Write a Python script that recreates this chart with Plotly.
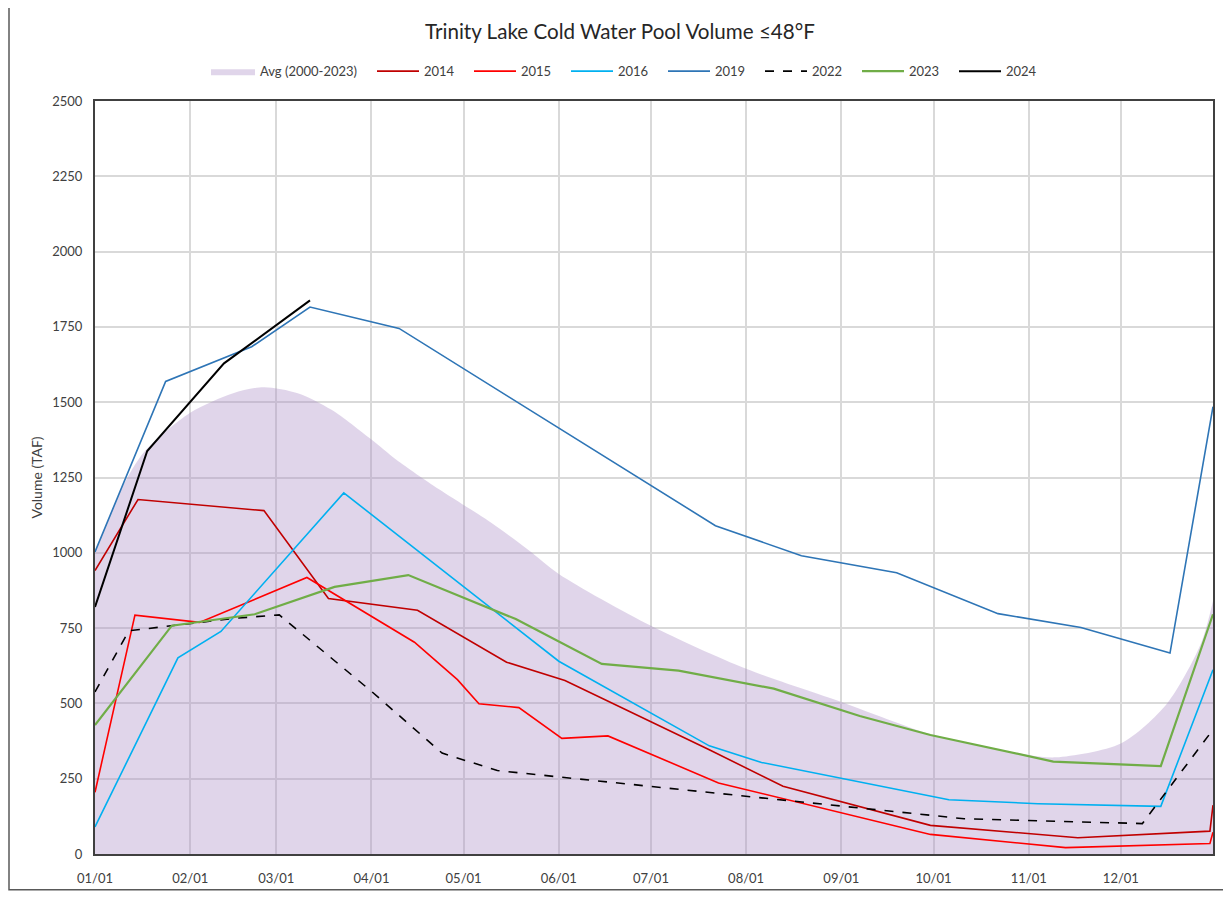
import plotly.graph_objects as go

YEAR = "2023"

# series values (MM-DD, TAF)
avg_dates = ["01-01", "01-10", "01-17", "02-01", "02-15", "02-25", "03-08", "03-19", "04-01",
             "04-09", "04-23", "05-10", "05-22", "06-01", "07-01", "08-01", "09-01", "10-01",
             "11-01", "11-10", "12-01", "12-16", "12-27", "12-31"]
avg_vals = [1000, 1220, 1335, 1465, 1530, 1550, 1530, 1475, 1376,
            1310, 1211, 1100, 1010, 930, 758, 615, 505, 395,
            329, 321, 367, 499, 697, 840]

d2014 = ["01-01", "01-15", "02-25", "03-18", "04-16", "05-15", "06-03", "07-20", "08-13",
         "09-30", "11-17", "12-30", "12-31"]
v2014 = [941, 1177, 1140, 848, 809, 637, 576, 346, 225, 95, 54, 76, 162]

d2015 = ["01-01", "01-14", "02-04", "03-11", "04-15", "04-29", "05-06", "05-19", "06-02",
         "06-17", "07-23", "09-30", "11-13", "12-30", "12-31"]
v2015 = [205, 793, 769, 918, 703, 579, 499, 486, 384, 392, 236, 65, 21, 35, 72]

d2016 = ["01-01", "01-28", "02-11", "03-23", "06-01", "07-20", "08-06", "10-06", "11-04",
         "12-14", "12-31"]
v2016 = [90, 651, 739, 1199, 640, 359, 304, 180, 167, 158, 612]

d2019 = ["01-01", "01-24", "02-21", "03-12", "04-10", "07-22", "08-19", "09-19", "10-22",
         "11-18", "12-17", "12-31"]
v2019 = [1003, 1569, 1684, 1816, 1745, 1090, 990, 934, 798, 752, 667, 1485]

d2022 = ["01-01", "01-12", "02-15", "03-02", "04-01", "04-24", "05-12", "10-11", "12-08", "12-31"]
v2022 = [538, 741, 782, 794, 540, 335, 277, 117, 101, 413]

d2023 = ["01-01", "01-26", "02-22", "03-20", "04-13", "05-18", "06-15", "07-10", "08-10",
         "09-07", "09-30", "11-09", "12-14", "12-31"]
v2023 = [428, 758, 796, 887, 926, 780, 631, 609, 549, 458, 395, 307, 292, 796]

d2024 = ["01-01", "01-18", "02-12", "02-28", "03-12"]
v2024 = [820, 1338, 1629, 1750, 1838]

month_ticks = ["01-01", "02-01", "03-01", "04-01", "05-01", "06-01",
               "07-01", "08-01", "09-01", "10-01", "11-01", "12-01"]
y_ticks = [0, 250, 500, 750, 1000, 1250, 1500, 1750, 2000, 2250, 2500]


def full(dates):
    return [f"{YEAR}-{d}" for d in dates]


FONT = "Lato, 'Open Sans', sans-serif"
TXT = "#404040"

# the page body adds an 8px margin, so the figure is sized to fit inside it
W, H = 1223, 890
L, R, T, B = 87, 18, 93, 39
PW, PH = W - L - R, H - T - B

fig = go.Figure()

fig.add_trace(go.Scatter(
    x=full(avg_dates), y=avg_vals, name="Avg (2000-2023)",
    mode="lines", line=dict(width=0, shape="spline", smoothing=0.8),
    fill="tozeroy", fillcolor="rgba(171,141,198,0.37)", legend="legend"))

series = [
    ("2014", d2014, v2014, "#C00000", "solid", 1.6),
    ("2015", d2015, v2015, "#FF0000", "solid", 1.6),
    ("2016", d2016, v2016, "#00B0F0", "solid", 1.6),
    ("2019", d2019, v2019, "#2E75B6", "solid", 1.6),
    ("2022", d2022, v2022, "#000000", "dash", 1.6),
    ("2023", d2023, v2023, "#70AD47", "solid", 2.2),
    ("2024", d2024, v2024, "#000000", "solid", 2.0),
]
for name, d, v, col, dash, w in series:
    fig.add_trace(go.Scatter(
        x=full(d), y=v, name=name, mode="lines",
        line=dict(color=col, width=w, dash=dash), legend="legend2"))

# outer frame of the chart
fig.add_shape(type="rect", xref="paper", yref="paper",
              x0=-(L - 1) / PW, x1=(W - 2 - L) / PW, y0=-(B - 3) / PH, y1=1.2,
              line=dict(color="#595959", width=1.5), fillcolor="rgba(0,0,0,0)")

fig.update_layout(
    width=W, height=H,
    margin=dict(l=L, r=R, t=T, b=B),
    paper_bgcolor="white", plot_bgcolor="white",
    font=dict(family=FONT, color=TXT, size=13),
    title=dict(text="Trinity Lake Cold Water Pool Volume ≤48°F", x=612 / W,
               xanchor="center", y=1 - 24 / H, yanchor="middle",
               font=dict(size=20.6, color="#262626", family=FONT)),
    showlegend=True,
    legend=dict(orientation="h", x=111 / PW, xanchor="left", y=1 + 30 / PH, yanchor="middle",
                font=dict(size=13, color=TXT), bgcolor="rgba(0,0,0,0)", itemwidth=44),
    legend2=dict(orientation="h", x=277 / PW, xanchor="left", y=1 + 30 / PH, yanchor="middle",
                 font=dict(size=13, color=TXT), bgcolor="rgba(0,0,0,0)", itemwidth=42,
                 entrywidth=40, entrywidthmode="pixels"),
    xaxis=dict(type="date", range=[f"{YEAR}-01-01", f"{YEAR}-12-31"],
               tickvals=full(month_ticks), tickformat="%m/%d", ticks="",
               ticklabelstandoff=11,
               showgrid=True, gridcolor="#D9D9D9", gridwidth=1.5,
               showline=True, linecolor=TXT, linewidth=2, mirror=True,
               tickfont=dict(size=13, color=TXT), zeroline=False),
    yaxis=dict(range=[0, 2500], tickvals=y_ticks, ticks="", showgrid=True,
               ticklabelstandoff=8,
               gridcolor="#D9D9D9", gridwidth=1.5, showline=True, linecolor=TXT,
               linewidth=2, mirror=True, zeroline=False,
               tickfont=dict(size=13, color=TXT),
               title=dict(text="Volume (TAF)", font=dict(size=14, color=TXT), standoff=6)),
)

fig.write_html("out.html")
